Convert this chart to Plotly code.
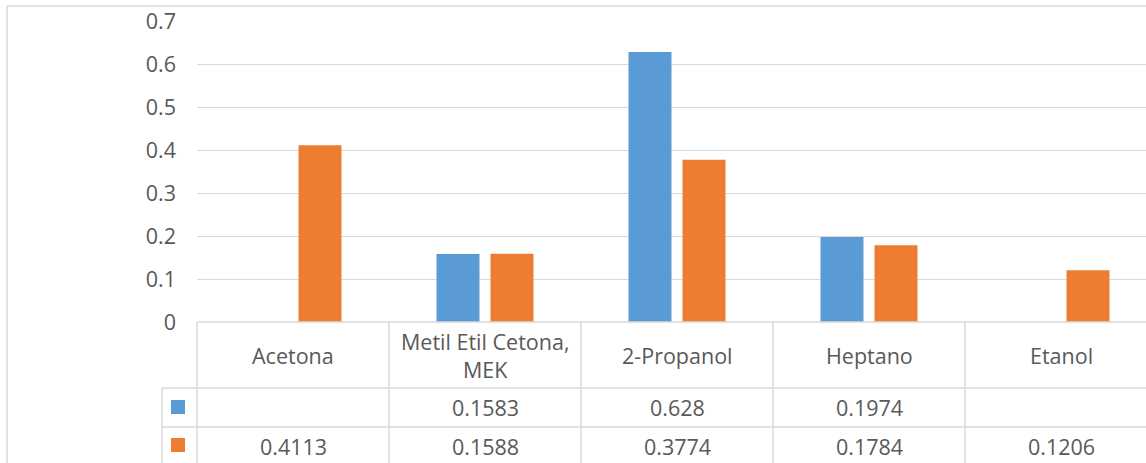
import plotly.graph_objects as go

# Chart data
categories = ["Acetona", "Metil Etil Cetona, MEK", "2-Propanol", "Heptano", "Etanol"]
header_labels = ["Acetona", "Metil Etil Cetona,<br>MEK", "2-Propanol", "Heptano", "Etanol"]
series_blue = [None, 0.1583, 0.628, 0.1974, None]
series_orange = [0.4113, 0.1588, 0.3774, 0.1784, 0.1206]
y_ticks = [0, 0.1, 0.2, 0.3, 0.4, 0.5, 0.6, 0.7]

W, H = 1146, 463
BLUE = "#5B9BD5"
ORANGE = "#ED7D31"
GRID = "#d9d9d9"
TEXT = "#595959"
FONT = "Open Sans"
FS = 21.5


def px(x):
    return x / W


def py(y):
    return 1 - y / H


fig = go.Figure()
fig.add_trace(go.Bar(x=categories, y=series_blue, marker=dict(color=BLUE, line=dict(width=0)), showlegend=False))
fig.add_trace(go.Bar(x=categories, y=series_orange, marker=dict(color=ORANGE, line=dict(width=0)), showlegend=False))

x_left, x_right = 197, 1146
y_top, y_zero = 21, 322
n = len(categories)
cat_w = 192
x_max = -0.5 + (x_right - x_left) / cat_w

fig.update_layout(
    template="none",
    width=W, height=H, autosize=False,
    margin=dict(l=0, r=0, t=0, b=0, pad=0),
    paper_bgcolor="white", plot_bgcolor="white",
    barmode="group", bargap=0.4375, bargroupgap=0.204,
    showlegend=False,
    font=dict(family=FONT, size=FS, color=TEXT),
    xaxis=dict(domain=[px(x_left), 1], range=[-0.5, x_max], showticklabels=False, automargin=False,
               showgrid=False, zeroline=False, showline=False, ticks="", fixedrange=True),
    yaxis=dict(domain=[py(y_zero), py(y_top)], range=[0, 0.7], tickvals=y_ticks, automargin=False,
               ticktext=[f"{v:g}" for v in y_ticks], showgrid=True, gridcolor=GRID, gridwidth=1,
               zeroline=False, showline=False, ticks="", ticklabelstandoff=20,
               tickfont=dict(family=FONT, size=FS, color=TEXT), fixedrange=True),
)

shapes = []
annotations = []

# Outer chart frame
shapes.append(dict(type="line", xref="paper", yref="paper", x0=px(7), x1=1, y0=py(6), y1=py(6),
                   line=dict(color=GRID, width=1.5)))
shapes.append(dict(type="line", xref="paper", yref="paper", x0=px(7), x1=px(7), y0=py(6), y1=0,
                   line=dict(color=GRID, width=1.5)))

# Data table grid
row_header_bottom, row1_bottom, row2_bottom = 388, 427, 466
key_left = 162
shapes.append(dict(type="line", xref="paper", yref="paper", x0=px(x_left), x1=1, y0=py(y_zero), y1=py(y_zero),
                   line=dict(color=GRID, width=1.5)))
for yy in (row_header_bottom, row1_bottom):
    shapes.append(dict(type="line", xref="paper", yref="paper", x0=px(key_left), x1=1, y0=py(yy), y1=py(yy),
                       line=dict(color=GRID, width=1.5)))
shapes.append(dict(type="line", xref="paper", yref="paper", x0=px(key_left), x1=px(key_left),
                   y0=py(row_header_bottom), y1=0, line=dict(color=GRID, width=1.5)))
shapes.append(dict(type="line", xref="paper", yref="paper", x0=px(x_left), x1=px(x_left),
                   y0=py(y_zero), y1=0, line=dict(color=GRID, width=1.5)))
for i in range(1, n):
    shapes.append(dict(type="line", xref="x", yref="paper", x0=i - 0.5, x1=i - 0.5,
                       y0=py(y_zero), y1=0, line=dict(color=GRID, width=1.5)))

# Series keys in the table
for color, (yt, yb) in ((BLUE, (400, 414)), (ORANGE, (438, 452))):
    shapes.append(dict(type="rect", xref="paper", yref="paper", x0=px(171), x1=px(185), y0=py(yb), y1=py(yt),
                       fillcolor=color, line=dict(width=0)))

# Table text
for cat, label, b, o in zip(categories, header_labels, series_blue, series_orange):
    annotations.append(dict(x=cat, xref="x", y=py((y_zero + row_header_bottom) / 2), yref="paper",
                            text=label, showarrow=False, xanchor="center", yanchor="middle",
                            font=dict(family=FONT, size=FS, color=TEXT)))
    if b is not None:
        annotations.append(dict(x=cat, xref="x", y=py((row_header_bottom + row1_bottom) / 2), yref="paper",
                                text=f"{b:g}", showarrow=False, xanchor="center", yanchor="middle",
                                font=dict(family=FONT, size=FS, color=TEXT)))
    if o is not None:
        annotations.append(dict(x=cat, xref="x", y=py((row1_bottom + row2_bottom) / 2), yref="paper",
                                text=f"{o:g}", showarrow=False, xanchor="center", yanchor="middle",
                                font=dict(family=FONT, size=FS, color=TEXT)))

fig.update_layout(shapes=shapes, annotations=annotations)
fig.write_html("out.html")
